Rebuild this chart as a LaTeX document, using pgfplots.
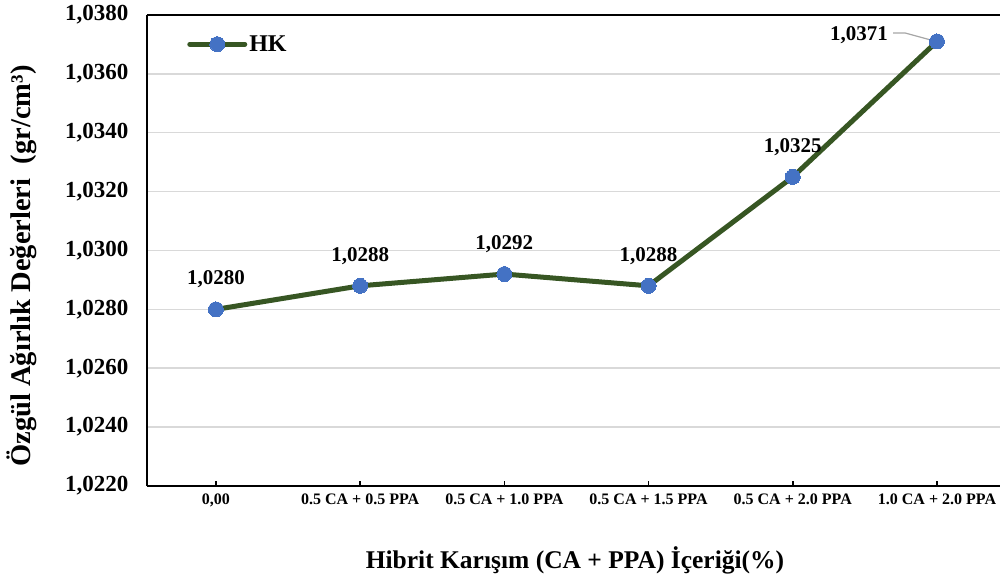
\documentclass[border=0pt]{standalone}
\usepackage{pgfplots}
\pgfplotsset{compat=1.18}
\usepackage{fontspec}
\setmainfont{Liberation Serif}
\definecolor{lineg}{HTML}{375623}
\definecolor{mblue}{HTML}{4472C4}
\definecolor{gridc}{HTML}{D9D9D9}
\definecolor{leadc}{HTML}{A6A6A6}
\begin{document}
\begin{tikzpicture}[x=1pt,y=1pt]
\begin{axis}[
  at={(0,0)}, anchor=south west,
  scale only axis, width=853pt, height=471pt,
  xmin=-0.478, xmax=5.437, ymin=1.022, ymax=1.038,
  axis x line*=bottom, axis y line*=left,
  axis line style={line width=2pt, black, -},
  xtick={0,1,2,3,4,5},
  xticklabels={{0,00},{0.5 CA + 0.5 PPA},{0.5 CA + 1.0 PPA},{0.5 CA + 1.5 PPA},{0.5 CA + 2.0 PPA},{1.0 CA + 2.0 PPA}},
  x tick label style={font=\fontsize{16}{19}\selectfont\bfseries, yshift=-4pt},
  ytick={1.022,1.024,1.026,1.028,1.030,1.032,1.034,1.036,1.038},
  y tick label style={/pgf/number format/fixed, /pgf/number format/fixed zerofill, /pgf/number format/precision=4, /pgf/number format/use comma, /pgf/number format/1000 sep={}, /pgf/number format/assume math mode=true, font=\fontsize{23}{27}\selectfont\bfseries, xshift=-15pt},
  ymajorgrids, grid style={gridc, line width=1.5pt},
  tick align=inside, major tick length=5pt,
  xtick style={black, line width=1.5pt},
  ytick style={draw=none},
  clip=false,
  legend style={at={(axis description cs:0.047,0.938)}, anchor=west, draw=none, fill=none,
    font=\fontsize{24}{28}\selectfont\bfseries, inner sep=0pt},
  legend image code/.code={\draw[#1, mark repeat=2, mark phase=2] plot coordinates {(0pt,0pt)(27.5pt,0pt)(55pt,0pt)};},
]
\draw[black, line width=2pt] (rel axis cs:0,1) -- (rel axis cs:1,1);
\addplot[lineg, line width=5pt, line join=round, line cap=round,
  mark=*, mark size=7.5pt, mark options={draw=mblue, fill=mblue, line width=0pt}]
  table {
x y
0 1.0280
1 1.0288
2 1.0292
3 1.0288
4 1.0325
5 1.0371
};
\addlegendentry{HK}
\addplot[draw=none, mark=none, forget plot, nodes near coords, point meta=explicit symbolic,
  nodes near coords style={font=\fontsize{21}{25}\selectfont\bfseries, anchor=center, yshift=30pt, text=black}]
  table[meta=lab] {
x y lab
0 1.0280 1,0280
1 1.0288 1,0288
2 1.0292 1,0292
3 1.0288 1,0288
4 1.0325 1,0325
};
\draw[leadc, line width=1.2pt] (axis cs:4.695,1.03739) -- (axis cs:4.778,1.03739) -- (axis cs:4.98,1.03712);
\node[anchor=east, font=\fontsize{21}{25}\selectfont\bfseries, inner sep=0pt] at (axis cs:4.66,1.03732) {1,0371};
\end{axis}
\node[rotate=90, font=\fontsize{28.5}{32}\selectfont\bfseries] at (-125,220) {Özgül Ağırlık Değerleri\ \ (gr/cm³)};
\node[font=\fontsize{25.5}{30}\selectfont\bfseries] at (428,-74) {Hibrit Karışım (CA + PPA) İçeriği(\%)};
\pgfresetboundingbox
\useasboundingbox (-147,-97) rectangle (853,486);
\end{tikzpicture}
\end{document}
